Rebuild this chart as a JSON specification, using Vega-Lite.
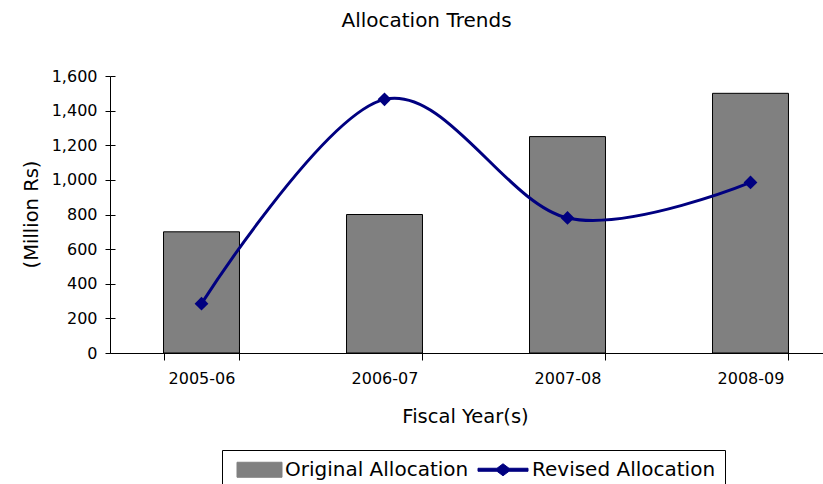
{
  "$schema": "https://vega.github.io/schema/vega-lite/v6.json",
  "width": 713,
  "height": 277,
  "autosize": "none",
  "padding": {"left": 110, "top": 76, "right": 0, "bottom": 131},
  "background": "white",
  "title": {
    "text": "Allocation Trends",
    "font": "DejaVu Sans",
    "fontSize": 20,
    "fontWeight": "normal",
    "color": "black",
    "anchor": "middle",
    "frame": "group",
    "dx": -40,
    "offset": 37
  },
  "data": {
    "values": [
      {"year": "2005-06", "series": "Original Allocation", "value": 700},
      {"year": "2006-07", "series": "Original Allocation", "value": 800},
      {"year": "2007-08", "series": "Original Allocation", "value": 1250},
      {"year": "2008-09", "series": "Original Allocation", "value": 1500},
      {"year": "2005-06", "series": "Revised Allocation", "value": 285},
      {"year": "2006-07", "series": "Revised Allocation", "value": 1465},
      {"year": "2007-08", "series": "Revised Allocation", "value": 780},
      {"year": "2008-09", "series": "Revised Allocation", "value": 985}
    ]
  },
  "encoding": {
    "color": {
      "field": "series",
      "type": "nominal",
      "scale": {"domain": ["Original Allocation", "Revised Allocation"], "range": ["#808080", "#000080"]},
      "legend": {
        "title": null,
        "orient": "none",
        "direction": "horizontal",
        "legendX": 112,
        "legendY": 374,
        "strokeColor": "black",
        "padding": 9,
        "labelFont": "DejaVu Sans",
        "labelFontSize": 20,
        "labelColor": "black",
        "labelOffset": 33,
        "labelLimit": 400,
        "columnPadding": 7,
        "symbolSize": 400,
        "symbolStrokeWidth": 1,
        "symbolOpacity": 1,
        "encode": {
          "symbols": {
            "update": {
              "size": {"value": 400},
              "strokeWidth": {"value": 1},
              "shape": {"signal": "datum.value === 'Original Allocation' ? 'M-0.45,-0.75L4.05,-0.75L4.05,0.75L-0.45,0.75Z' : 'M-1.05,-0.15L0.85,-0.15L1.45,-0.6L2.05,-0.15L3.95,-0.15L3.95,0.15L2.05,0.15L1.45,0.6L0.85,0.15L-1.05,0.15Z'"},
              "fill": {"signal": "datum.value === 'Original Allocation' ? '#808080' : '#000080'"},
              "stroke": {"signal": "datum.value === 'Original Allocation' ? 'black' : '#000080'"},
              "opacity": {"value": 1}
            }
          }
        }
      }
    }
  },
  "layer": [
    {
      "transform": [{"filter": "datum.series === 'Original Allocation'"}],
      "mark": {"type": "bar", "stroke": "black", "strokeWidth": 1, "opacity": 1},
      "encoding": {
        "x": {
          "field": "year",
          "type": "nominal",
          "sort": null,
          "scale": {"range": [0, 732], "paddingInner": 0.585, "paddingOuter": 0.2925},
          "axis": {
            "orient": "bottom",
            "title": "Fiscal Year(s)",
            "titleFont": "DejaVu Sans",
            "titleFontSize": 19.5,
            "titleFontWeight": "normal",
            "titleX": 355,
            "titleY": 63,
            "titleBaseline": "middle",
            "labelAngle": 0,
            "labelFont": "DejaVu Sans",
            "labelFontSize": 16,
            "labelPadding": 10,
            "tickBand": "extent",
            "tickSize": 7,
            "domainColor": "black",
            "tickColor": "black",
            "grid": false
          }
        },
        "y": {
          "field": "value",
          "type": "quantitative",
          "scale": {"domain": [0, 1600], "nice": false},
          "axis": {
            "orient": "left",
            "title": "(Million Rs)",
            "titleFont": "DejaVu Sans",
            "titleFontSize": 19.5,
            "titleFontWeight": "normal",
            "titleAngle": -90,
            "titleX": -79,
            "titleY": 138,
            "titleAlign": "center",
            "titleBaseline": "middle",
            "values": [0, 200, 400, 600, 800, 1000, 1200, 1400, 1600],
            "format": ",d",
            "labelFont": "DejaVu Sans",
            "labelFontSize": 16,
            "labelPadding": 8,
            "tickSize": 5,
            "domainColor": "black",
            "tickColor": "black",
            "grid": false
          }
        }
      }
    },
    {
      "transform": [{"filter": "datum.series === 'Revised Allocation'"}],
      "mark": {
        "type": "line",
        "interpolate": "cardinal",
        "strokeWidth": 3,
        "point": {"filled": true, "shape": "diamond", "size": 190, "opacity": 1}
      },
      "encoding": {
        "x": {
          "field": "year",
          "type": "nominal",
          "sort": null,
          "axis": {
            "orient": "bottom",
            "title": "",
            "labels": false,
            "domain": false,
            "offset": -7,
            "tickBand": "extent",
            "tickSize": 7,
            "tickColor": "black",
            "grid": false
          }
        },
        "y": {
          "field": "value",
          "type": "quantitative",
          "axis": {
            "orient": "left",
            "title": "",
            "labels": false,
            "domain": false,
            "offset": -5,
            "values": [0, 200, 400, 600, 800, 1000, 1200, 1400, 1600],
            "tickSize": 5,
            "tickColor": "black",
            "grid": false
          }
        }
      }
    }
  ],
  "resolve": {"axis": {"x": "independent", "y": "independent"}},
  "config": {
    "view": {"stroke": null},
    "font": "DejaVu Sans",
    "axis": {"labelColor": "black", "titleColor": "black"}
  }
}
